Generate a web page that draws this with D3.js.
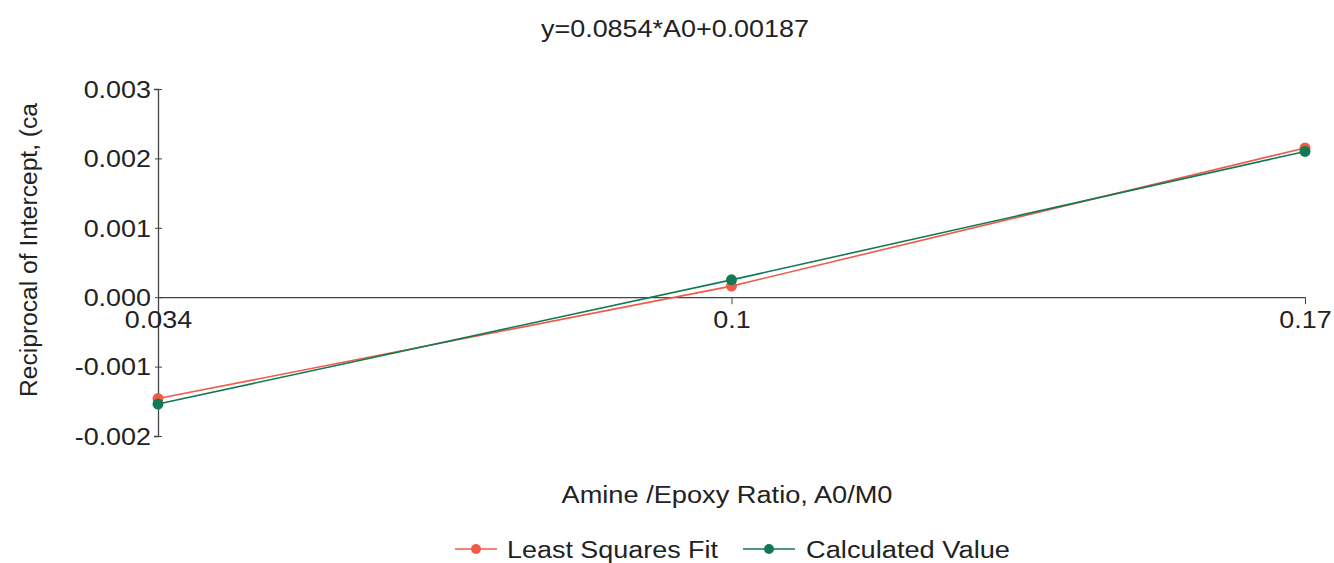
<!DOCTYPE html>
<html><head><meta charset="utf-8">
<script src="https://cdn.jsdelivr.net/npm/d3@7"></script>
<style>body{margin:0;background:#fff}svg{font-family:"Liberation Sans",Arial,sans-serif}</style>
</head><body><svg id="c" width="1334" height="563"></svg>
<script>
const categories = ["0.034", "0.1", "0.17"];
const leastSquares = [-0.00146, 0.00016, 0.00215];
const calculated = [-0.00154, 0.00025, 0.00210];
const yTicks = [-0.002, -0.001, 0.000, 0.001, 0.002, 0.003];
const seriesNames = ["Least Squares Fit", "Calculated Value"];
const colors = ["#f25a48", "#117a54"];

const svg = d3.select("#c");
const x = d3.scalePoint().domain(categories).range([158, 1305]);
const y = d3.scaleLinear().domain([-0.002, 0.003]).range([436, 89]);
const FS = 23, SX = 1.17;

function stretch(sel, f) {
  sel.each(function () {
    const w = this.getComputedTextLength();
    d3.select(this).attr("textLength", w * f).attr("lengthAdjust", "spacingAndGlyphs");
  });
}
function fitTo(sel, len) {
  sel.attr("textLength", len).attr("lengthAdjust", "spacingAndGlyphs");
}

// title
fitTo(svg.append("text").attr("x", 675).attr("y", 37).attr("text-anchor", "middle")
  .attr("font-size", FS).attr("fill", "#222").text("y=0.0854*A0+0.00187"), 268);

// y axis
const ya = svg.append("g").attr("transform", "translate(158,0)")
  .call(d3.axisLeft(y).tickValues(yTicks).tickFormat(d => d3.format(".3f")(d).replace("\u2212", "-")).tickSize(4).tickPadding(3));
ya.select(".domain").attr("stroke", "#444").attr("stroke-width", 1.3);
ya.selectAll(".tick line").attr("x2", 4).attr("x1", -3).attr("stroke", "#444");
ya.selectAll("text").attr("font-size", FS).attr("fill", "#222").attr("dy", "0.36em").attr("font-family", "Liberation Sans, Arial");
stretch(ya.selectAll("text"), SX);

// x axis at zero
const xa = svg.append("g").attr("transform", `translate(0,${y(0)})`)
  .call(d3.axisBottom(x).tickSize(7).tickSizeOuter(0));
xa.select(".domain").attr("stroke", "#444").attr("stroke-width", 1.3);
xa.selectAll(".tick line").attr("stroke", "#444");
xa.selectAll("text").attr("font-size", FS).attr("fill", "#222").attr("y", 31).attr("dy", 0)
  .attr("font-family", "Liberation Sans, Arial");
stretch(xa.selectAll("text"), SX);

// axis titles
fitTo(svg.append("text").attr("transform", "translate(37,250) rotate(-90)").attr("text-anchor", "middle")
  .attr("font-size", FS).attr("fill", "#222").text("Reciprocal of Intercept, (ca"), 294);
fitTo(svg.append("text").attr("x", 727).attr("y", 503).attr("text-anchor", "middle")
  .attr("font-size", FS).attr("fill", "#222").text("Amine /Epoxy Ratio, A0/M0"), 331);

// series
const series = [leastSquares, calculated];
series.forEach((vals, i) => {
  const line = d3.line().x((d, j) => x(categories[j])).y(d => y(d));
  svg.append("path").datum(vals).attr("d", line).attr("fill", "none")
    .attr("stroke", colors[i]).attr("stroke-width", 1.6);
  svg.selectAll(null).data(vals).enter().append("circle")
    .attr("cx", (d, j) => x(categories[j])).attr("cy", d => y(d)).attr("r", 5.5)
    .attr("fill", colors[i]);
});

// legend
const leg = [{x1: 455, x2: 497, tx: 507, w: 211}, {x1: 743, x2: 795, tx: 806, w: 204}];
leg.forEach((l, i) => {
  svg.append("line").attr("x1", l.x1).attr("x2", l.x2).attr("y1", 549).attr("y2", 549)
    .attr("stroke", colors[i]).attr("stroke-width", 1.6);
  svg.append("circle").attr("cx", (l.x1 + l.x2) / 2).attr("cy", 549).attr("r", 5).attr("fill", colors[i]);
  fitTo(svg.append("text").attr("x", l.tx).attr("y", 558).attr("font-size", FS).attr("fill", "#222").text(seriesNames[i]), l.w);
});
</script></body></html>
